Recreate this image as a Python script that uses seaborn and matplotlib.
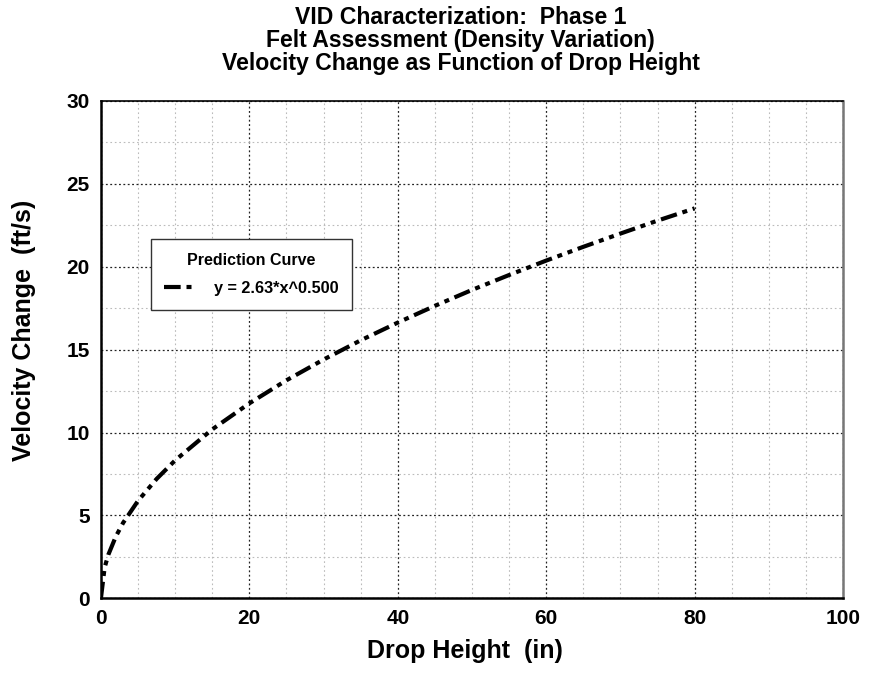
import matplotlib
matplotlib.use("Agg")
import matplotlib.pyplot as plt
from matplotlib.ticker import MultipleLocator
from matplotlib.lines import Line2D
import seaborn as sns
import pandas as pd

# Values (prediction curve)
drop_height = [0, 0.5, 1, 2, 3, 5, 7.5, 10, 15, 20, 25, 30, 35, 40, 45, 50, 55, 60, 65, 70, 75, 80]
velocity_change = [0, 1.86, 2.63, 3.72, 4.56, 5.88, 7.20, 8.32, 10.19, 11.76, 13.15, 14.40,
                   15.56, 16.63, 17.64, 18.60, 19.50, 20.37, 21.20, 22.00, 22.78, 23.52]
series_label = "y = 2.63*x^0.500"
legend_title = "Prediction Curve"
title_lines = ["VID Characterization:  Phase 1",
               "Felt Assessment (Density Variation)",
               "Velocity Change as Function of Drop Height"]
x_label = "Drop Height  (in)"
y_label = "Velocity Change  (ft/s)"

sns.set_style("white")
plt.rcParams['font.family'] = ['Liberation Sans', 'DejaVu Sans']
plt.rcParams['font.weight'] = 'bold'
plt.rcParams['axes.titleweight'] = 'bold'
plt.rcParams['axes.labelweight'] = 'bold'
for k in ['text.color', 'axes.labelcolor', 'xtick.color', 'ytick.color']:
    plt.rcParams[k] = 'black'

df = pd.DataFrame({"x": drop_height, "y": velocity_change})

fig = plt.figure(figsize=(8.7, 6.73), dpi=100)
ax = fig.add_axes([0.116, 0.111, 0.853, 0.739])

dash = (0, (4, 1.4, 1.2, 1.4, 1.2, 1.4))
sns.lineplot(data=df, x="x", y="y", ax=ax, color="black", linewidth=3,
             linestyle=dash, legend=False, zorder=5)

ax.set_xlim(0, 100)
ax.set_ylim(0, 30)
ax.xaxis.set_major_locator(MultipleLocator(20))
ax.xaxis.set_minor_locator(MultipleLocator(5))
ax.yaxis.set_major_locator(MultipleLocator(5))
ax.yaxis.set_minor_locator(MultipleLocator(2.5))

ax.grid(which="major", color="#222222", linestyle=(0, (1.5, 2)), linewidth=0.9)
ax.grid(which="minor", color="#bbbbbb", linestyle=(0, (1.5, 2.5)), linewidth=0.8)
ax.set_axisbelow(True)

ax.tick_params(which="major", direction="in", length=7, width=1.5, color="black",
               labelsize=15, pad=8)
ax.tick_params(which="minor", direction="in", length=3.5, width=1.2, color="black")
for lab in ax.get_xticklabels() + ax.get_yticklabels():
    lab.set_fontweight("bold")

for side in ["left", "bottom"]:
    ax.spines[side].set_color("black")
    ax.spines[side].set_linewidth(1.8)
ax.spines["top"].set_color("black")
ax.spines["top"].set_linewidth(1.2)
ax.spines["right"].set_color("#777777")
ax.spines["right"].set_linewidth(1.8)

ax.set_xlabel(x_label, fontsize=18, fontweight="bold")
ax.set_ylabel(y_label, fontsize=18, fontweight="bold")
ax.xaxis.set_label_coords(0.49, -0.082)
ax.yaxis.set_label_coords(-0.088, 0.539)
ax.set_title("\n".join(title_lines), fontsize=16.6, fontweight="bold",
             linespacing=1.02, pad=22)
ax.title.set_x(0.485)

handle = Line2D([], [], color="black", linewidth=3, linestyle=dash)
leg = ax.legend([handle], [series_label], title=legend_title,
                loc="upper left", bbox_to_anchor=(0.067, 0.722),
                frameon=True, fancybox=False, framealpha=1, edgecolor="#333333",
                prop={"weight": "bold", "size": 11.7}, handlelength=2.0,
                borderpad=0.85, labelspacing=0.8, handletextpad=1.05, borderaxespad=0)
leg.get_title().set_fontweight("bold")
leg.get_title().set_fontsize(11.5)
leg.get_frame().set_linewidth(1.0)

fig.savefig("out.png", dpi=100)
